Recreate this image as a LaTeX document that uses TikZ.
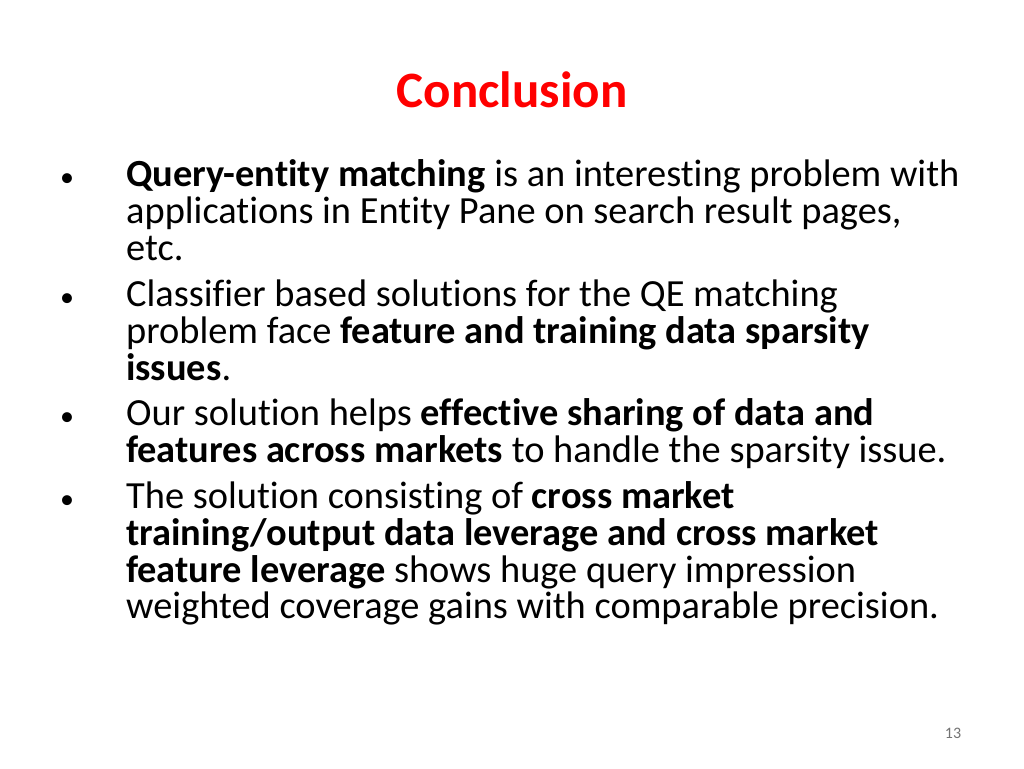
\documentclass[tikz,border=0pt]{standalone}
\usepackage{fontspec}
\setmainfont{Carlito}[Ligatures=NoCommon]
\usetikzlibrary{positioning}
\definecolor{titlered}{RGB}{255,0,0}
\tikzset{
  line/.style={anchor=base west,inner sep=0pt,font=\fontsize{38.4}{44}\selectfont},
  dot/.style={anchor=base,inner sep=0pt,font=\fontsize{28}{34}\selectfont}
}
\begin{document}
\begin{tikzpicture}[x=1pt,y=-1pt]
  \useasboundingbox[fill=white] (0,0) rectangle (1024,768);
  \node (title) [anchor=base,inner sep=0pt,text=titlered,font=\fontsize{51}{58}\selectfont\bfseries] at (512,107) {Conclusion};
  % bullets
  \foreach \y/\n in {186/b1,306/b2,425/b3,508/b4}
    \node (\n) [dot] at (67,\y) {\textbullet};
  % text lines
  \node (l1) [line] at (126,186) {\textbf{Query-entity matching} is an interesting problem with};
  \node (l2) [line] at (126,223) {applications in Entity Pane on search result pages,};
  \node (l3) [line] at (126,260) {etc.};
  \node (l4) [line] at (126,306) {Classifier based solutions for the QE matching};
  \node (l5) [line] at (126,343) {problem face \textbf{feature and training data sparsity}};
  \node (l6) [line] at (126,380) {\textbf{issues}.};
  \node (l7) [line] at (126,425) {Our solution helps \textbf{effective sharing of data and}};
  \node (l8) [line] at (126,462) {\textbf{features across markets} to handle the sparsity issue.};
  \node (l9) [line] at (126,508) {The solution consisting of \textbf{cross market}};
  \node (l10) [line] at (126,545) {\textbf{training/output data leverage and cross market}};
  \node (l11) [line] at (126,582) {\textbf{feature leverage} shows huge query impression};
  \node (l12) [line] at (126,618) {weighted coverage gains with comparable precision.};
  \node (page) [anchor=base,inner sep=0pt,text=black!55,font=\fontsize{16}{18}\selectfont] at (953,738) {13};
\end{tikzpicture}
\end{document}
